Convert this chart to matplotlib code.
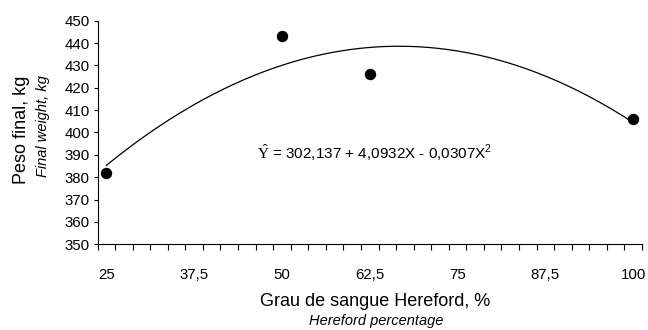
import numpy as np
import matplotlib
matplotlib.use("Agg")
import matplotlib.pyplot as plt

plt.rcParams["font.family"] = ["Liberation Sans", "DejaVu Sans"]
plt.rcParams["mathtext.fontset"] = "custom"
plt.rcParams["mathtext.rm"] = "Liberation Serif"
plt.rcParams["mathtext.sf"] = "Liberation Sans"

# observed means
hereford_pct = [25, 50, 62.5, 100]
final_weight = [382, 443, 426, 406]

# fitted quadratic shown on the chart
coef_a = 302.137
coef_b = 4.0932
coef_c = -0.0307

x_tick_labels = ["25", "37,5", "50", "62,5", "75", "87,5", "100"]
x_tick_values = [25, 37.5, 50, 62.5, 75, 87.5, 100]
y_ticks = list(range(350, 451, 10))

fig = plt.figure(figsize=(6.48, 3.30), dpi=100)
ax = fig.add_axes([0.1505, 0.2597, 0.8402, 0.6776])

xs = np.linspace(min(hereford_pct), max(hereford_pct), 200)
ax.plot(xs, coef_a + coef_b * xs + coef_c * xs ** 2, color="black", linewidth=0.9)
ax.plot(hereford_pct, final_weight, "o", color="black", markersize=7.2)

ax.set_xlim(23.75, 101.25)
ax.set_ylim(350, 450)
ax.set_yticks(y_ticks)
ax.tick_params(axis="y", direction="out", length=3, width=0.8, pad=2.5, labelsize=10.8)

# category-style axis: tick marks between categories, labels in the middle
ax.set_xticks(np.arange(23.75, 101.26, 2.5), minor=True)
ax.set_xticks(x_tick_values)
ax.set_xticklabels(x_tick_labels)
ax.tick_params(axis="x", which="major", length=0, pad=17, labelsize=10.8)
ax.tick_params(axis="x", which="minor", direction="out", length=4, width=0.8)

for side in ("top", "right"):
    ax.spines[side].set_visible(False)
for side in ("left", "bottom"):
    ax.spines[side].set_linewidth(0.8)

eq = r"$\hat{\mathrm{Y}}$ = 302,137 + 4,0932X - 0,0307X$^{\mathsf{2}}$"
ax.text(0.292, 0.41, eq, transform=ax.transAxes,
        fontsize=11, ha="left", va="center")

fig.text(22 / 648, 1 - 130 / 330, "Peso final, kg", rotation=90,
         ha="center", va="center", fontsize=13)
fig.text(43 / 648, 1 - 126 / 330, "Final weight, kg", rotation=90, style="italic",
         ha="center", va="center", fontsize=10.5)
fig.text(375 / 648, 1 - 302 / 330, "Grau de sangue Hereford, %",
         ha="center", va="center", fontsize=13)
fig.text(376 / 648, 1 - 321 / 330, "Hereford percentage", style="italic",
         ha="center", va="center", fontsize=10.5)

fig.savefig("out.png", dpi=100)
